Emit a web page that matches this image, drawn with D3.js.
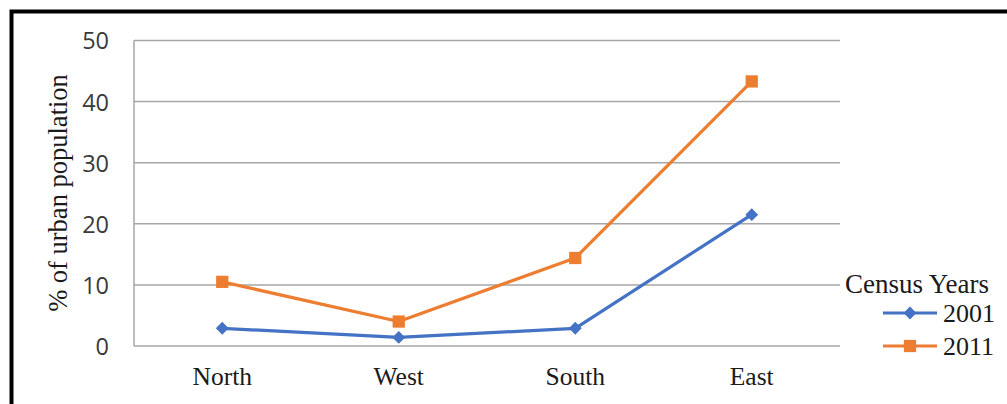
<!DOCTYPE html>
<html>
<head>
<meta charset="utf-8">
<script src="https://cdn.jsdelivr.net/npm/d3@7"></script>
<style>
  html, body { margin: 0; padding: 0; background: #fff; }
  svg { display: block; }
</style>
</head>
<body>
<svg id="chart" width="1007" height="404"></svg>
<script>
// Regions on the x axis
const regions = ["North", "West", "South", "East"];
// Share of urban population (%) per census year
const values2001 = [2.9, 1.4, 2.9, 21.5];
const values2011 = [10.5, 4.0, 14.4, 43.3];
const yTicks = [0, 10, 20, 30, 40, 50];
const seriesNames = ["2001", "2011"];
const legendTitle = "Census Years";
const yTitle = "% of urban population";

const svg = d3.select("#chart");
const W = 1007, H = 404;
const plot = { left: 134, right: 840, top: 40.5, bottom: 346 };

const serif = "'Liberation Serif', 'Times New Roman', serif";
const sans = "'Open Sans', 'Liberation Sans', sans-serif";

// Outer frame (runs off the right and bottom edges)
svg.append("rect")
  .attr("x", 11.5).attr("y", 11.5)
  .attr("width", W + 20).attr("height", H + 20)
  .attr("fill", "none").attr("stroke", "#000").attr("stroke-width", 4);

const x = d3.scaleBand().domain(regions).range([plot.left, plot.right]);
const y = d3.scaleLinear().domain([0, 50]).range([plot.bottom, plot.top]);

// Horizontal gridlines
svg.append("g")
  .selectAll("line").data(yTicks).join("line")
  .attr("x1", plot.left).attr("x2", plot.right)
  .attr("y1", d => y(d)).attr("y2", d => y(d))
  .attr("stroke", "#a6a6a6").attr("stroke-width", 1.5);

// Left axis line
svg.append("line")
  .attr("x1", plot.left).attr("x2", plot.left)
  .attr("y1", y(50)).attr("y2", y(0))
  .attr("stroke", "#a6a6a6").attr("stroke-width", 1.5);

// Y axis tick labels
const yAxis = d3.axisLeft(y).tickValues(yTicks).tickSize(0).tickPadding(0);
const gy = svg.append("g").attr("transform", `translate(109,0)`).call(yAxis);
gy.select(".domain").remove();
gy.selectAll("text")
  .attr("font-family", sans).attr("font-size", 23.5).attr("fill", "#3a3a3a")
  .attr("dy", "0.36em");

// X axis category labels
const xAxis = d3.axisBottom(x).tickSize(0).tickPadding(0);
const gx = svg.append("g").attr("transform", `translate(0,${plot.bottom})`).call(xAxis);
gx.select(".domain").remove();
gx.selectAll("text")
  .attr("font-family", serif).attr("font-size", 25.5).attr("fill", "#1a1a1a")
  .attr("y", 0).attr("dy", 39);

// Y axis title
svg.append("text")
  .attr("transform", "translate(67,193) rotate(-90)")
  .attr("text-anchor", "middle")
  .attr("font-family", serif).attr("font-size", 26.5).attr("fill", "#1a1a1a")
  .text(yTitle);

const colors = ["#4472c4", "#ed7d31"];
const allSeries = [values2001, values2011];
const line = d3.line().x((d, i) => x(regions[i]) + x.bandwidth() / 2).y(d => y(d));

const diamond = d3.symbol().type(d3.symbolDiamond2).size(105);
const square = d3.symbol().type(d3.symbolSquare).size(150);
const symbols = [diamond, square];

allSeries.forEach((vals, s) => {
  svg.append("path").datum(vals)
    .attr("d", line).attr("fill", "none")
    .attr("stroke", colors[s]).attr("stroke-width", 3.2)
    .attr("stroke-linejoin", "round");
  svg.append("g").selectAll("path").data(vals).join("path")
    .attr("transform", (d, i) => `translate(${x(regions[i]) + x.bandwidth() / 2},${y(d)})`)
    .attr("d", symbols[s]).attr("fill", colors[s]);
});

// Legend
svg.append("text")
  .attr("x", 845).attr("y", 293)
  .attr("font-family", serif).attr("font-size", 27).attr("fill", "#1a1a1a")
  .text(legendTitle);

const legendRows = [313, 346];
seriesNames.forEach((name, s) => {
  const ly = legendRows[s];
  svg.append("line")
    .attr("x1", 883).attr("x2", 937).attr("y1", ly).attr("y2", ly)
    .attr("stroke", colors[s]).attr("stroke-width", 3.2);
  svg.append("path")
    .attr("transform", `translate(910,${ly})`)
    .attr("d", symbols[s]).attr("fill", colors[s]);
  svg.append("text")
    .attr("x", 943).attr("y", ly + 9)
    .attr("font-family", serif).attr("font-size", 26).attr("fill", "#1a1a1a")
    .text(name);
});
</script>
</body>
</html>
